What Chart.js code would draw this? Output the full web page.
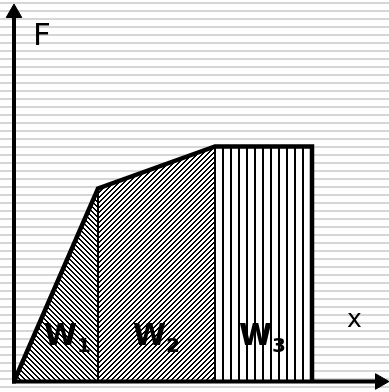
<!DOCTYPE html>
<html><head><meta charset="utf-8">
<script src="https://cdn.jsdelivr.net/npm/chart.js@4.4.1/dist/chart.umd.min.js"></script>
<style>html,body{margin:0;padding:0;background:#fff;overflow:hidden}canvas{display:block}</style>
</head><body>
<canvas id="c" width="389" height="392"></canvas>
<script>
// ---- data ----
const xBreaks = [0, 84, 201, 298];          // displacement at region boundaries
const forceBreaks = [0, 193, 235, 235];     // force at those boundaries
const regionNames = ['W', 'W', 'W'];
const regionSubs = ['1', '2', '3'];
const axisTitles = ['x', 'F'];

// ---- hatch patterns ----
function makePattern(size, isBlack) {
  const c = document.createElement('canvas');
  c.width = size; c.height = size;
  const g = c.getContext('2d');
  g.fillStyle = '#fff'; g.fillRect(0, 0, size, size);
  g.fillStyle = '#000';
  for (let yy = 0; yy < size; yy++)
    for (let xx = 0; xx < size; xx++)
      if (isBlack(xx, yy)) g.fillRect(xx, yy, 1, 1);
  return g.createPattern(c, 'repeat');
}
const patterns = [
  makePattern(5, (a, b) => (((a - b) % 5) + 5) % 5 < 2),
  makePattern(5, (a, b) => (a + b) % 5 < 2),
  makePattern(8, (a, b) => a >= 6)
];

const pt = (x, y) => ({x, y});
const datasets = [];

// axes with arrow heads
datasets.push({data: [pt(0, -2), pt(0, 366)], borderColor: '#000', borderWidth: 4, order: 0, clip: false});
datasets.push({data: [pt(-2, 0), pt(362, 0)], borderColor: '#000', borderWidth: 4, order: 0, clip: false});
datasets.push({data: [pt(0, 368.5)], showLine: false, pointStyle: 'triangle', pointRadius: 9, pointRotation: 0,
  pointBackgroundColor: '#000', pointBorderColor: '#000', pointBorderWidth: 1, order: 0, clip: false});
datasets.push({data: [pt(366, 0)], showLine: false, pointStyle: 'triangle', pointRadius: 9, pointRotation: 90,
  pointBackgroundColor: '#000', pointBorderColor: '#000', pointBorderWidth: 1, order: 0, clip: false});

// outline of the F(x) curve
const outline = xBreaks.map((v, i) => pt(v, forceBreaks[i]));
outline.push(pt(xBreaks[xBreaks.length - 1], 0));
datasets.push({data: outline, borderColor: '#000', borderWidth: 4.5, borderJoinStyle: 'miter', order: 1, clip: false});

// region separators
for (let i = 1; i < xBreaks.length - 1; i++) {
  datasets.push({data: [pt(xBreaks[i], 0), pt(xBreaks[i], forceBreaks[i])], borderColor: '#000', borderWidth: 2, order: 5});
}

// region fills (work areas)
for (let i = 0; i < xBreaks.length - 1; i++) {
  datasets.push({data: [pt(xBreaks[i], forceBreaks[i]), pt(xBreaks[i + 1], forceBreaks[i + 1])],
    fill: 'origin', backgroundColor: patterns[i], borderColor: 'rgba(0,0,0,0)', borderWidth: 1, order: 10});
}

const labelPlugin = {
  id: 'labels',
  afterDatasetsDraw(chart) {
    const ctx = chart.ctx;
    ctx.save();
    ctx.fillStyle = '#000';
    ctx.textBaseline = 'alphabetic';
    ctx.textAlign = 'left';
    ctx.font = '31px "DejaVu Sans"';
    ctx.fillText(axisTitles[1], 33, 45);
    ctx.font = '25px "DejaVu Sans"';
    ctx.fillText(axisTitles[0], 347, 327);
    const lefts = [44, 133, 239];
    for (let i = 0; i < regionNames.length; i++) {
      ctx.font = 'bold 30px "DejaVu Sans"';
      ctx.fillText(regionNames[i], lefts[i], 345);
      const w = ctx.measureText(regionNames[i]).width;
      ctx.font = 'bold 20px "DejaVu Sans"';
      ctx.fillText(regionSubs[i], lefts[i] + w, 352);
    }
    ctx.restore();
  }
};

new Chart(document.getElementById('c'), {
  type: 'line',
  data: {datasets},
  options: {
    responsive: false,
    animation: false,
    devicePixelRatio: 1,
    layout: {padding: 0, autoPadding: false},
    elements: {point: {radius: 0, hoverRadius: 0}, line: {tension: 0}},
    plugins: {legend: {display: false}, tooltip: {enabled: false}},
    events: [],
    scales: {
      x: {type: 'linear', min: -14, max: 375, display: false},
      y: {
        type: 'linear', min: -10.5, max: 381.5, display: true,
        border: {display: false},
        ticks: {display: false},
        grid: {drawTicks: false, color: '#d6d6d6', lineWidth: 2},
        afterBuildTicks(scale) {
          const t = [];
          for (let v = -5.5; v <= 381.5; v += 8) t.push({value: v});
          scale.ticks = t;
        }
      }
    }
  },
  plugins: [labelPlugin]
});
</script>
</body></html>
